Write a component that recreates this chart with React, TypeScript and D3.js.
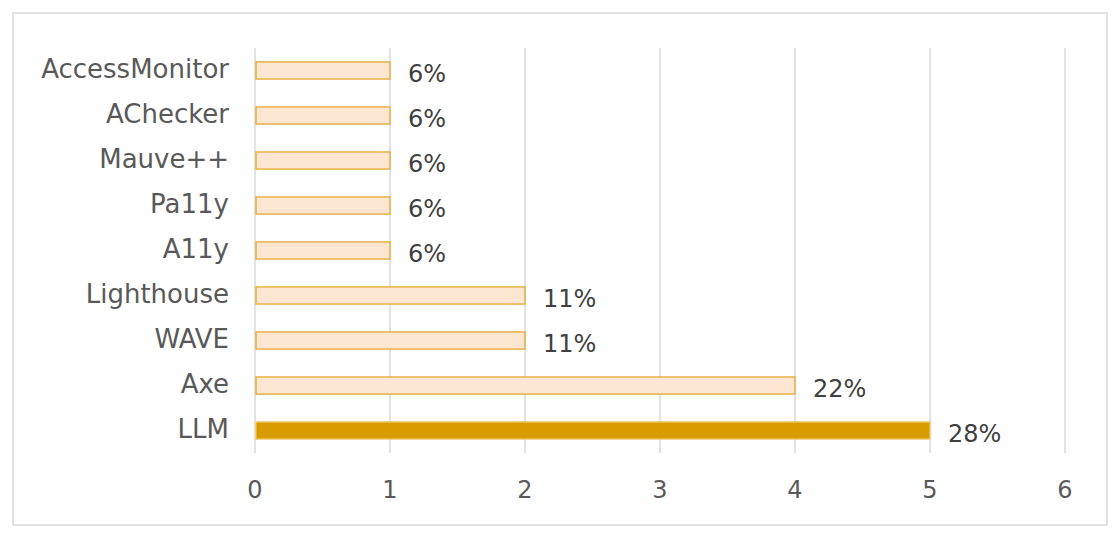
import React, { useEffect, useRef } from "react";
import * as d3 from "d3";

const categories = ["AccessMonitor", "AChecker", "Mauve++", "Pa11y", "A11y", "Lighthouse", "WAVE", "Axe", "LLM"];
const counts = [1, 1, 1, 1, 1, 2, 2, 4, 5];
const percentLabels = ["6%", "6%", "6%", "6%", "6%", "11%", "11%", "22%", "28%"];
const xTicks = [0, 1, 2, 3, 4, 5, 6];

const App = () => {
  const svgRef = useRef<SVGSVGElement>(null);

  useEffect(() => {
    const W = 1120;
    const H = 539;
    const margin = { top: 48, left: 255, right: 55, bottom: 86 };
    const width = W - margin.left - margin.right;
    const height = H - margin.top - margin.bottom;
    const font = "'DejaVu Sans', sans-serif";
    const textColor = "#595959";

    const svg = d3.select(svgRef.current).attr("width", W).attr("height", H);
    svg.selectAll("*").remove();

    svg
      .append("rect")
      .attr("x", 13)
      .attr("y", 13)
      .attr("width", 1094)
      .attr("height", 512)
      .attr("fill", "white")
      .attr("stroke", "#d9d9d9")
      .attr("stroke-width", 1.5);

    const g = svg.append("g").attr("transform", `translate(${margin.left},${margin.top})`);

    const x = d3.scaleLinear().domain([0, 6]).range([0, width]);
    const y = d3.scaleBand().domain(categories).range([0, height]).paddingInner(0.62).paddingOuter(0.31);

    // gridlines
    g.selectAll(".grid")
      .data(xTicks)
      .enter()
      .append("line")
      .attr("x1", (d) => x(d))
      .attr("x2", (d) => x(d))
      .attr("y1", 0)
      .attr("y2", height)
      .attr("stroke", "#d9d9d9")
      .attr("stroke-width", 1.5);

    // bars
    g.selectAll(".bar")
      .data(counts)
      .enter()
      .append("rect")
      .attr("x", x(0) + 1)
      .attr("y", (d, i) => y(categories[i])!)
      .attr("width", (d) => x(d) - x(0) - 1)
      .attr("height", y.bandwidth())
      .attr("fill", (d, i) => (categories[i] === "LLM" ? "#d89b00" : "#fde6d2"))
      .attr("stroke", (d, i) => (categories[i] === "LLM" ? "#f1c766" : "#e3a82e"))
      .attr("stroke-width", 1.3);

    // value labels
    g.selectAll(".val")
      .data(counts)
      .enter()
      .append("text")
      .attr("x", (d) => x(d) + 18)
      .attr("y", (d, i) => y(categories[i])! + y.bandwidth() / 2 + 4)
      .attr("dominant-baseline", "middle")
      .attr("font-family", font)
      .attr("font-size", 24)
      .attr("fill", "#404040")
      .text((d, i) => percentLabels[i]);

    // category labels
    g.selectAll(".cat")
      .data(categories)
      .enter()
      .append("text")
      .attr("x", -26)
      .attr("y", (d) => y(d)! + y.bandwidth() / 2)
      .attr("text-anchor", "end")
      .attr("dominant-baseline", "middle")
      .attr("font-family", font)
      .attr("font-size", 26)
      .attr("fill", textColor)
      .text((d) => d);

    // x tick labels
    g.selectAll(".tick")
      .data(xTicks)
      .enter()
      .append("text")
      .attr("x", (d) => x(d))
      .attr("y", height + 38)
      .attr("text-anchor", "middle")
      .attr("dominant-baseline", "middle")
      .attr("font-family", font)
      .attr("font-size", 24)
      .attr("fill", textColor)
      .text((d) => String(d));
  }, []);

  return (
    <div style={{ margin: -8 }}>
      <svg ref={svgRef} style={{ display: "block" }}></svg>
    </div>
  );
};

export default App;
